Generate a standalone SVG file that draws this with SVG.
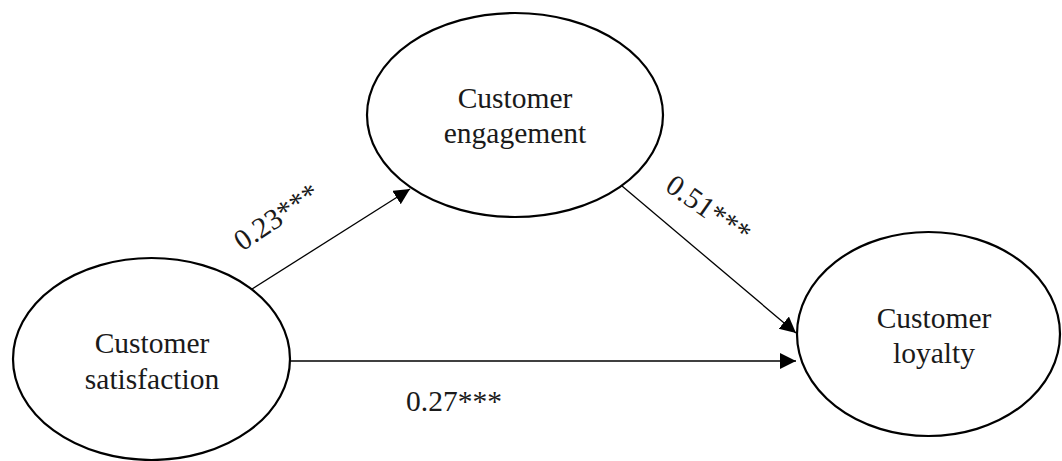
<svg xmlns="http://www.w3.org/2000/svg" width="1062" height="461" viewBox="0 0 1062 461">
  <style>
    .node { fill: #ffffff; stroke: #000000; stroke-width: 2.2; }
    .lbl { font-family: "Liberation Serif", "Times New Roman", serif; font-size: 29.5px; fill: #1a1a1a; text-anchor: middle; }
    .edge { stroke: #000000; stroke-width: 1.3; fill: none; marker-end: url(#arrow); }
  </style>
  <defs>
    <marker id="arrow" markerUnits="userSpaceOnUse" markerWidth="17" markerHeight="17" refX="16" refY="8" orient="auto">
      <path d="M0,0 L16,8 L0,16 Z" fill="#000000"/>
    </marker>
  </defs>
  <rect width="1062" height="461" fill="#ffffff"/>

  <g id="connectors">
    <line class="edge" x1="252" y1="289" x2="410" y2="189"/>
    <line class="edge" x1="622" y1="186" x2="796" y2="333"/>
    <line class="edge" x1="290" y1="361" x2="796" y2="361"/>
    <text class="lbl" x="282" y="225" transform="rotate(-34 282 225)">0.23***</text>
    <text class="lbl" x="703" y="217" transform="rotate(35 703 217)">0.51***</text>
    <text class="lbl" x="454" y="411">0.27***</text>
  </g>

  <g id="node-engagement">
    <ellipse class="node" cx="515" cy="115" rx="148" ry="102"/>
    <text class="lbl" x="515" y="108">Customer</text>
    <text class="lbl" x="515" y="143">engagement</text>
  </g>

  <g id="node-satisfaction">
    <ellipse class="node" cx="151.5" cy="359" rx="138.5" ry="101"/>
    <text class="lbl" x="152" y="353">Customer</text>
    <text class="lbl" x="152" y="389">satisfaction</text>
  </g>

  <g id="node-loyalty">
    <ellipse class="node" cx="928.5" cy="334" rx="131.5" ry="102"/>
    <text class="lbl" x="934" y="328">Customer</text>
    <text class="lbl" x="934" y="363">loyalty</text>
  </g>
</svg>
